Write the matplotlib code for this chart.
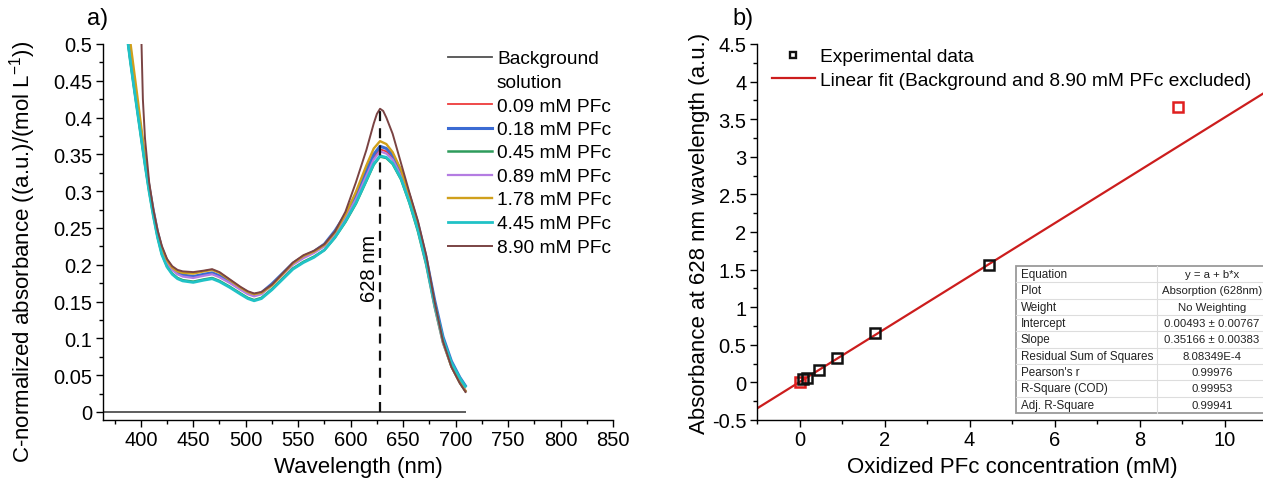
import matplotlib
matplotlib.use("Agg")
import matplotlib.pyplot as plt
from matplotlib.lines import Line2D
from matplotlib.ticker import MultipleLocator, FuncFormatter

plt.rcParams.update({
    "font.family": ["Liberation Sans", "DejaVu Sans"],
    "mathtext.fontset": "custom",
    "mathtext.rm": "Liberation Sans",
    "mathtext.it": "Liberation Sans:italic",
    "axes.unicode_minus": False,
})

# ---------------------------------------------------------------- data (a)
wavelength = [384, 386, 388, 390, 393, 396, 400, 404, 408, 412, 416, 420,
              425, 430, 435, 440, 450, 460, 468, 475, 485, 495, 502, 508,
              515, 525, 535, 545, 555, 565, 575, 585, 595, 605, 615, 622,
              628, 634, 640, 648, 656, 664, 672, 680, 688, 696, 704, 710]

abs_009 = [0.549, 0.526, 0.504, 0.482, 0.451, 0.421, 0.381, 0.341, 0.304, 0.272, 0.243, 0.221,
           0.204, 0.194, 0.188, 0.185, 0.183, 0.186, 0.188, 0.184, 0.176, 0.167, 0.161, 0.158,
           0.161, 0.173, 0.187, 0.201, 0.210, 0.217, 0.226, 0.244, 0.266, 0.292, 0.324, 0.346,
           0.357, 0.354, 0.345, 0.323, 0.290, 0.251, 0.204, 0.146, 0.096, 0.063, 0.041, 0.028]
abs_018 = [0.550, 0.527, 0.505, 0.483, 0.452, 0.422, 0.382, 0.342, 0.305, 0.273, 0.244, 0.222,
           0.205, 0.195, 0.189, 0.186, 0.184, 0.187, 0.189, 0.185, 0.177, 0.168, 0.162, 0.159,
           0.162, 0.174, 0.188, 0.202, 0.211, 0.218, 0.228, 0.246, 0.268, 0.295, 0.328, 0.350,
           0.361, 0.358, 0.349, 0.327, 0.294, 0.256, 0.209, 0.152, 0.102, 0.069, 0.047, 0.034]
abs_045 = [0.545, 0.522, 0.500, 0.478, 0.447, 0.417, 0.377, 0.337, 0.300, 0.267, 0.238, 0.215,
           0.198, 0.188, 0.182, 0.179, 0.177, 0.180, 0.182, 0.178, 0.170, 0.161, 0.155, 0.152,
           0.155, 0.167, 0.181, 0.195, 0.204, 0.211, 0.220, 0.237, 0.258, 0.283, 0.314, 0.336,
           0.347, 0.345, 0.337, 0.316, 0.284, 0.246, 0.200, 0.143, 0.094, 0.062, 0.040, 0.027]
abs_089 = [0.548, 0.525, 0.503, 0.481, 0.450, 0.420, 0.380, 0.340, 0.303, 0.271, 0.242, 0.220,
           0.203, 0.193, 0.187, 0.184, 0.182, 0.185, 0.187, 0.183, 0.175, 0.166, 0.160, 0.157,
           0.160, 0.172, 0.186, 0.200, 0.209, 0.216, 0.225, 0.242, 0.264, 0.289, 0.321, 0.343,
           0.354, 0.351, 0.343, 0.321, 0.288, 0.249, 0.202, 0.144, 0.094, 0.062, 0.040, 0.027]
abs_178 = [0.568, 0.545, 0.523, 0.503, 0.470, 0.437, 0.392, 0.346, 0.306, 0.272, 0.244, 0.223,
           0.206, 0.196, 0.191, 0.189, 0.188, 0.191, 0.193, 0.189, 0.179, 0.169, 0.163, 0.160,
           0.162, 0.172, 0.187, 0.202, 0.212, 0.218, 0.227, 0.244, 0.268, 0.299, 0.335, 0.358,
           0.368, 0.364, 0.353, 0.329, 0.295, 0.255, 0.207, 0.147, 0.096, 0.062, 0.040, 0.027]
abs_445 = [0.545, 0.521, 0.499, 0.477, 0.446, 0.416, 0.376, 0.336, 0.299, 0.266, 0.237, 0.214,
           0.197, 0.187, 0.181, 0.178, 0.176, 0.179, 0.181, 0.177, 0.169, 0.160, 0.154, 0.151,
           0.154, 0.166, 0.180, 0.194, 0.203, 0.210, 0.220, 0.237, 0.259, 0.284, 0.315, 0.337,
           0.348, 0.346, 0.338, 0.317, 0.285, 0.248, 0.203, 0.147, 0.099, 0.067, 0.046, 0.033]

wavelength_890 = [400, 402, 404, 408, 412, 416, 420, 425, 430, 435, 440, 450,
                  460, 468, 475, 485, 495, 502, 508, 515, 525, 535, 545, 555,
                  565, 575, 585, 595, 605, 615, 622, 625, 628, 631, 634, 640,
                  648, 656, 664, 672, 680, 688, 696, 704, 710]
abs_890 = [0.540, 0.425, 0.372, 0.312, 0.275, 0.247, 0.226, 0.208, 0.198, 0.193, 0.191, 0.190,
           0.192, 0.194, 0.190, 0.180, 0.170, 0.164, 0.161, 0.163, 0.173, 0.188, 0.203, 0.213,
           0.219, 0.228, 0.245, 0.272, 0.312, 0.356, 0.392, 0.405, 0.412, 0.409, 0.400, 0.378,
           0.338, 0.298, 0.260, 0.213, 0.150, 0.096, 0.061, 0.039, 0.026]

wavelength_bg = [365, 710]
abs_bg = [0.0, 0.0]

peak_nm = 628

# ---------------------------------------------------------------- data (b)
concentration = [0.0, 0.09, 0.18, 0.45, 0.89, 1.78, 4.45, 8.90]
absorbance_628 = [0.005, 0.040, 0.065, 0.160, 0.320, 0.655, 1.565, 3.665]
excluded = [True, False, False, False, False, False, False, True]

fit_intercept = 0.00493
fit_slope = 0.35166

fit_table = [
    ("Equation", "y = a + b*x"),
    ("Plot", "Absorption (628nm)"),
    ("Weight", "No Weighting"),
    ("Intercept", "0.00493 \u00b1 0.00767"),
    ("Slope", "0.35166 \u00b1 0.00383"),
    ("Residual Sum of Squares", "8.08349E-4"),
    ("Pearson's r", "0.99976"),
    ("R-Square (COD)", "0.99953"),
    ("Adj. R-Square", "0.99941"),
]

# ---------------------------------------------------------------- figure
W, H = 1263, 485
fig = plt.figure(figsize=(W / 100, H / 100), dpi=100)

TICK_FS = 14.5
LEG_FS = 13.8


def fx(px):
    return px / W


def fy(py):
    return 1 - py / H


def style_axes(ax):
    for side in ("top", "right"):
        ax.spines[side].set_visible(False)
    for side in ("left", "bottom"):
        ax.spines[side].set_linewidth(1.0)
    ax.tick_params(which="major", direction="out", length=5, width=1.0,
                   labelsize=TICK_FS, pad=2.5)
    ax.tick_params(which="minor", direction="out", length=3, width=1.0)
    fmt = FuncFormatter(lambda v, p: "%g" % round(v, 4))
    ax.xaxis.set_major_formatter(fmt)
    ax.yaxis.set_major_formatter(fmt)


# ------------------------------------------------------------ panel (a)
ax_a = fig.add_axes([fx(103), fy(421), fx(613) - fx(103), fy(45) - fy(421)])
style_axes(ax_a)

series_a = [
    ("Background\nsolution", wavelength_bg, abs_bg, "#505050", 1.3),
    ("0.09 mM PFc", wavelength, abs_009, "#ee3b3b", 1.3),
    ("0.18 mM PFc", wavelength, abs_018, "#3b6bd3", 2.2),
    ("0.45 mM PFc", wavelength, abs_045, "#2e9c5c", 1.8),
    ("0.89 mM PFc", wavelength, abs_089, "#b47ce2", 1.6),
    ("1.78 mM PFc", wavelength, abs_178, "#d0a01c", 1.7),
    ("4.45 mM PFc", wavelength, abs_445, "#20c2c6", 2.0),
    ("8.90 mM PFc", wavelength_890, abs_890, "#7a4343", 1.4),
]
for label, xs, ys, color, lw in series_a:
    ax_a.plot(xs, ys, color=color, lw=lw, solid_capstyle="butt",
              solid_joinstyle="round")

peak_value = abs_890[wavelength_890.index(peak_nm)]
ax_a.vlines(peak_nm, 0, peak_value, colors="#111111",
            linestyles=(0, (4.5, 3.2)), lw=1.6, zorder=5)
ax_a.text(617.5, 0.197, "%d nm" % peak_nm, rotation=90, ha="center",
          va="center", fontsize=TICK_FS)

ax_a.set_xlim(364, 850)
ax_a.set_ylim(-0.011, 0.5)
ax_a.xaxis.set_major_locator(MultipleLocator(50))
ax_a.xaxis.set_minor_locator(MultipleLocator(25))
ax_a.yaxis.set_major_locator(MultipleLocator(0.05))
ax_a.yaxis.set_minor_locator(MultipleLocator(0.025))
ax_a.set_xlabel("Wavelength (nm)", fontsize=16)
ax_a.set_ylabel("C-normalized absorbance ((a.u.)/(mol L$^{\\mathrm{-1}}$))",
                fontsize=16)
ax_a.xaxis.set_label_coords(0.5, -0.095)
ax_a.yaxis.set_label_coords(-0.127, 0.45)

# legend of panel (a): handle beside the first text line of each entry
leg_rows = [58, 105, 129, 152, 176, 199, 223, 246.5]
for (label, xs, ys, color, lw), row in zip(series_a, leg_rows):
    fig.add_artist(Line2D([fx(448), fx(492)], [fy(row), fy(row)],
                          color=color, lw=lw, transform=fig.transFigure))
    lines = label.split("\n")
    for k, line in enumerate(lines):
        fig.text(fx(497), fy(row + k * 23.5), line, fontsize=LEG_FS,
                 va="center_baseline", ha="left")

fig.text(fx(87), fy(19), "a)", fontsize=17, va="center", ha="left")

# ------------------------------------------------------------ panel (b)
ax_b = fig.add_axes([fx(757), fy(421), fx(1267) - fx(757), fy(45) - fy(421)])
style_axes(ax_b)

x_fit = [-1.0, 11.0]
y_fit = [fit_intercept + fit_slope * v for v in x_fit]
ax_b.plot(x_fit, y_fit, color="#cc1d1d", lw=1.6, zorder=2)

for c, a, ex in zip(concentration, absorbance_628, excluded):
    ax_b.plot([c], [a], marker="s", ms=6.5, mfc="none", mew=1.8,
              mec="#e01f1f" if ex else "#111111", ls="none", zorder=3)

ax_b.set_xlim(-1, 11)
ax_b.set_ylim(-0.5, 4.5)
ax_b.xaxis.set_major_locator(MultipleLocator(2))
ax_b.xaxis.set_minor_locator(MultipleLocator(1))
ax_b.yaxis.set_major_locator(MultipleLocator(0.5))
ax_b.yaxis.set_minor_locator(MultipleLocator(0.25))
ax_b.set_xlabel("Oxidized PFc concentration (mM)", fontsize=16)
ax_b.set_ylabel("Absorbance at 628 nm wavelength (a.u.)", fontsize=16)
ax_b.xaxis.set_label_coords(0.5, -0.095)
ax_b.yaxis.set_label_coords(-0.093, 0.5)

# legend of panel (b)
fig.add_artist(Line2D([fx(793)], [fy(56)], marker="s", ms=4.5, mfc="none",
                      mew=1.7, mec="#111111", ls="none",
                      transform=fig.transFigure))
fig.text(fx(820), fy(56), "Experimental data", fontsize=LEG_FS,
         va="center_baseline")
fig.add_artist(Line2D([fx(772), fx(815)], [fy(79), fy(79)], color="#cc1d1d",
                      lw=1.6, transform=fig.transFigure))
fig.text(fx(820), fy(79), "Linear fit (Background and 8.90 mM PFc excluded)",
         fontsize=LEG_FS, va="center_baseline")

fig.text(fx(732), fy(19), "b)", fontsize=17, va="center", ha="left")

# fit statistics table
t_left, t_top, t_mid, t_right = 1016, 267, 1157, 1268
row_h = 16.33
n_rows = len(fit_table)
t_bottom = t_top + n_rows * row_h
fig.add_artist(plt.Rectangle((fx(t_left), fy(t_bottom)),
                             fx(t_right) - fx(t_left), fy(t_top) - fy(t_bottom),
                             transform=fig.transFigure, facecolor="white",
                             edgecolor="#9a9a9a", lw=1.3, zorder=4))
for i in range(1, n_rows):
    yy = fy(t_top + i * row_h)
    fig.add_artist(Line2D([fx(t_left), fx(t_right)], [yy, yy], color="#dddddd",
                          lw=0.8, transform=fig.transFigure, zorder=5))
fig.add_artist(Line2D([fx(t_mid), fx(t_mid)], [fy(t_top), fy(t_bottom)],
                      color="#dddddd", lw=0.8, transform=fig.transFigure, zorder=5))
for i, (name, value) in enumerate(fit_table):
    yc = fy(t_top + (i + 0.5) * row_h)
    fig.text(fx(t_left + 5), yc, name, fontsize=8.4, va="center", ha="left",
             color="#222222", zorder=6)
    fig.text(fx(1212), yc, value, fontsize=8.2, va="center", ha="center",
             color="#222222", zorder=6)

fig.savefig("out.png", dpi=100)
